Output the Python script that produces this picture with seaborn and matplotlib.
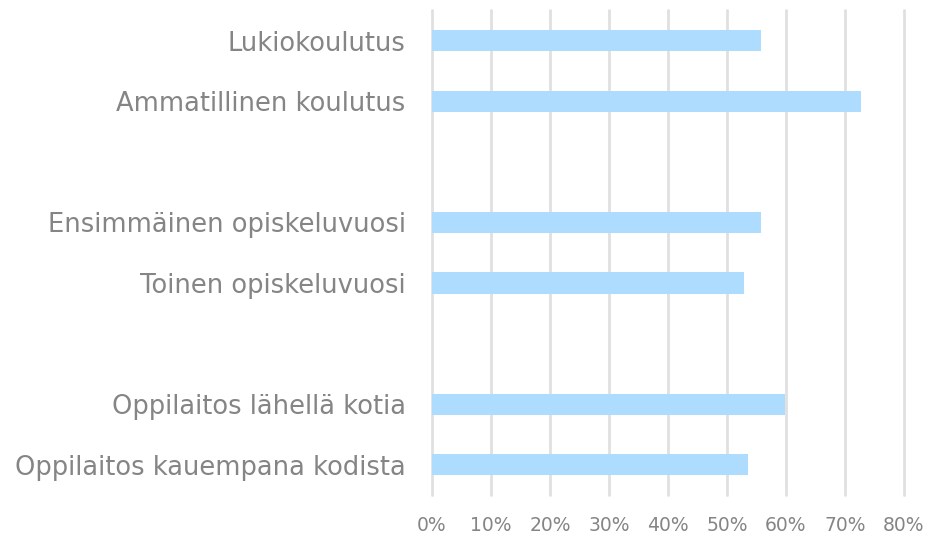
import numpy as np
import pandas as pd
import matplotlib
matplotlib.use("Agg")
import matplotlib.pyplot as plt
import seaborn as sns
from matplotlib.ticker import PercentFormatter

# 类别（含两个空白分隔行）
categories = [
    "Lukiokoulutus",
    "Ammatillinen koulutus",
    " ",
    "Ensimmäinen opiskeluvuosi",
    "Toinen opiskeluvuosi",
    "  ",
    "Oppilaitos lähellä kotia",
    "Oppilaitos kauempana kodista",
]
values = [0.557, 0.727, np.nan, 0.557, 0.529, np.nan, 0.599, 0.535]
x_ticks = [0.0, 0.1, 0.2, 0.3, 0.4, 0.5, 0.6, 0.7, 0.8]

df = pd.DataFrame({"kategoria": categories, "osuus": values})

sns.set_style("white")
plt.rcParams["font.family"] = ["DejaVu Sans"]

fig = plt.figure(figsize=(9.28, 5.37), dpi=100)
ax = fig.add_axes([0.4655, 0.078, 0.974 - 0.4655, 0.981 - 0.078])

sns.barplot(data=df, y="kategoria", x="osuus", order=categories,
            color="#AEDCFE", width=0.35, orient="h", ax=ax,
            linewidth=0, saturation=1)

ax.set_xlim(0, 0.8)
ax.set_xticks(x_ticks)
ax.xaxis.set_major_formatter(PercentFormatter(1.0, decimals=0))
ax.grid(axis="x", color="#E0E0E0", linewidth=2)
for gl in ax.get_xgridlines():
    gl.set_clip_on(False)
ax.set_axisbelow(True)
for s in ax.spines.values():
    s.set_visible(False)

ax.set_xlabel("")
ax.set_ylabel("")
ax.tick_params(axis="x", length=0, pad=15, labelsize=13.5, labelcolor="#858585")
ax.tick_params(axis="y", length=0, pad=19, labelsize=18.5, labelcolor="#858585")

fig.savefig("out.png", dpi=100)
